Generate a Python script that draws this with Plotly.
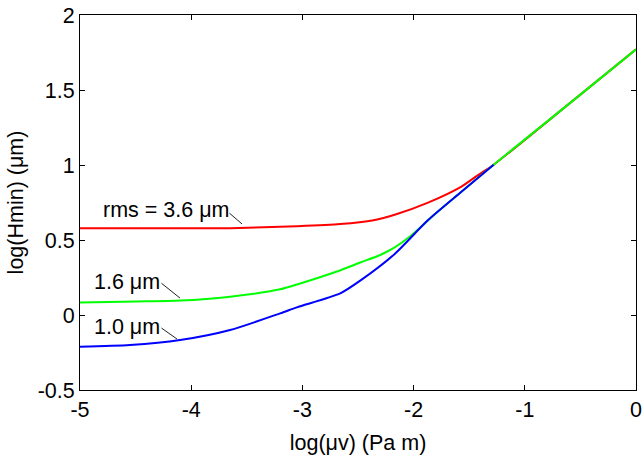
import plotly.graph_objects as go

# log(mu*v) in Pa m vs log(Hmin) in micrometres, one curve per surface roughness
x_rms36 = [-5.0, -4.5, -4.0, -3.65, -3.05, -2.66, -2.36, -2.17, -1.87, -1.57, -1.42, -1.28, -0.6, 0.0]
y_rms36 = [0.578, 0.578, 0.578, 0.579, 0.592, 0.606, 0.632, 0.668, 0.749, 0.856, 0.933, 1.002, 1.409, 1.771]

x_rms16 = [-5.0, -4.5, -4.1, -3.65, -3.2, -3.02, -2.69, -2.48, -2.3, -2.17, -2.03, -1.9, -1.84, -1.57, -1.28, -0.6, 0.0]
y_rms16 = [0.084, 0.090, 0.096, 0.122, 0.171, 0.210, 0.290, 0.350, 0.400, 0.451, 0.525, 0.610, 0.652, 0.822, 1.002, 1.409, 1.771]

x_rms10 = [-5.0, -4.55, -4.1, -3.65, -3.2, -3.05, -2.66, -2.48, -2.17, -1.87, -1.57, -1.28]
y_rms10 = [-0.211, -0.200, -0.167, -0.100, 0.011, 0.051, 0.144, 0.229, 0.407, 0.633, 0.822, 1.002]

x_ticks = [-5, -4, -3, -2, -1, 0]
y_ticks = [-0.5, 0, 0.5, 1, 1.5, 2]

FONT = "Liberation Sans, Arial, Helvetica, sans-serif"
FS = 21.5

fig = go.Figure()
for xs, ys, col in [(x_rms36, y_rms36, "#ff0000"),
                    (x_rms16, y_rms16, "#00ff00"),
                    (x_rms10, y_rms10, "#0000ff")]:
    fig.add_trace(go.Scatter(x=xs, y=ys, mode="lines",
                             line=dict(color=col, width=2, shape="spline", smoothing=0.7),
                             showlegend=False))

# curve labels with short leader lines
labels = [
    ("rms = 3.6 \u03bcm", -4.227, 0.70, -3.543, 0.607, -14, -12),
    ("1.6 \u03bcm", -4.577, 0.22, -4.101, 0.113, -20, -16),
    ("1.0 \u03bcm", -4.577, -0.08, -4.128, -0.16, -17, -12),
]
for text, tx, ty, hx, hy, ax, ay in labels:
    fig.add_annotation(x=tx, y=ty, text=text, showarrow=False,
                       xanchor="center", yanchor="middle",
                       font=dict(family=FONT, size=FS, color="black"))
    fig.add_annotation(x=hx, y=hy, text="", showarrow=True, arrowhead=0,
                       arrowwidth=1, arrowcolor="#222222", ax=ax, ay=ay,
                       standoff=0, startstandoff=0)

axis_common = dict(
    showgrid=False, zeroline=False, showline=True, linecolor="black", linewidth=1,
    mirror="ticks", ticks="inside", ticklen=5, tickwidth=1, tickcolor="black",
    tickfont=dict(family=FONT, size=FS, color="black"), automargin=False,
)

fig.update_xaxes(range=[-5, 0], tickvals=x_ticks, ticktext=[str(v) for v in x_ticks],
                 title=dict(text="log(\u03bcv) (Pa m)", font=dict(family=FONT, size=FS, color="black"),
                            standoff=14),
                 **axis_common)
fig.update_yaxes(range=[-0.5, 2], tickvals=y_ticks, ticktext=["-0.5", "0", "0.5", "1", "1.5", "2"],
                 title=dict(text="log(Hmin) (\u03bcm)", font=dict(family=FONT, size=FS, color="black"),
                            standoff=8),
                 **axis_common)

fig.update_layout(
    width=644, height=459,
    margin=dict(l=80, r=8, t=15, b=69),
    paper_bgcolor="white", plot_bgcolor="white",
    font=dict(family=FONT, size=FS, color="black"),
)

fig.write_html("out.html")
